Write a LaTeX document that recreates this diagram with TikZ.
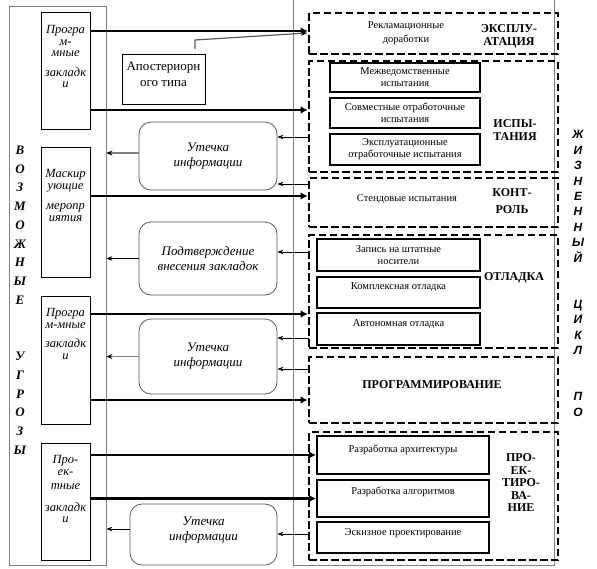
\documentclass[tikz,border=0pt]{standalone}
\usepackage{fontspec}
\setmainfont{Liberation Serif}
\newfontfamily\arialfont{Liberation Sans}
\usetikzlibrary{calc}
\usetikzlibrary{arrows.meta}
\usetikzlibrary{positioning}

\begin{document}
\begin{tikzpicture}[x=1pt,y=-1pt,
 greyframe/.style={draw=gray,line width=0.8pt},
 zbox/.style={draw,line width=0.8pt,minimum width=49pt,inner sep=0pt},
 ztext/.style={align=center,font=\fontsize{12.5}{11.5}\selectfont\itshape,inner sep=0pt},
 rbox/.style={draw=black!65,line width=0.8pt,rounded corners=12pt,align=center,font=\fontsize{13}{15}\selectfont\itshape,inner sep=0pt},
 dbox/.style={draw,line width=2.6pt,dash pattern=on 7.5pt off 3.5pt,minimum width=249pt,inner sep=0pt},
 ibox/.style={draw,line width=2.2pt,align=center,font=\fontsize{10.5}{12}\selectfont,inner sep=0pt},
 stage/.style={align=center,font=\fontsize{12}{13.5}\selectfont\bfseries,inner sep=0pt},
 note/.style={align=center,font=\fontsize{10.5}{14}\selectfont,inner sep=0pt},
 fat/.style={line width=2.9pt,-{Latex[length=7pt,width=7.5pt]}},
 thinarr/.style={line width=0.8pt,-{Stealth[length=6pt,width=4.5pt]}},
 greyout/.style={draw=gray,line width=1.6pt,-{Stealth[length=6pt,width=5pt,black]}}]
\useasboundingbox (0,0) rectangle (597,568);

\node[greyframe,minimum width=97pt,minimum height=559pt,inner sep=0pt] (lframe) at (57.5,285.5) {};
\draw[greyframe] (293,-2) -- (293,565) -- (554,565) -- (554,-2);

\node[font=\fontsize{13}{18.75}\selectfont\bfseries\itshape,align=center,inner sep=0pt] (ugrozy) at (20,300)
 {В\\О\\З\\М\\О\\Ж\\Н\\Ы\\Е\\[37.5pt]У\\Г\\Р\\О\\З\\Ы};
\node[font=\arialfont\fontsize{12}{15.4}\selectfont\bfseries\itshape,align=center,inner sep=0pt] (cikl) at (578,273.5)
 {Ж\\И\\З\\Н\\Е\\Н\\Н\\Ы\\Й\\[30.8pt]Ц\\И\\К\\Л\\[30.8pt]П\\О};

\node[zbox,minimum height=117pt] (z1) at (65.5,70.5) {};
\node[ztext,anchor=north] (z1t) at ([yshift=-14pt]z1.north) {Програ\\м-\\мные\\[8pt]закладк\\и};
\node[zbox,minimum height=130pt] (z2) at (65.5,212) {};
\node[ztext,anchor=north,font=\fontsize{12.5}{12}\selectfont\itshape] (z2t) at ([yshift=-23pt]z2.north) {Маскир\\ующие\\[8pt]меропр\\иятия};
\node[zbox,minimum height=128pt] (z3) at (65.5,360) {};
\node[ztext,anchor=north] (z3t) at ([yshift=-13pt]z3.north) {Програ\\м-мные\\[8pt]закладк\\и};
\node[zbox,minimum height=117pt] (z4) at (65.5,501.5) {};
\node[ztext,anchor=north] (z4t) at ([yshift=-13pt]z4.north) {Про-\\ек-\\[3pt]тные\\[10pt]закладк\\и};

\node[draw,line width=0.8pt,minimum width=83pt,minimum height=50pt,align=center,font=\fontsize{13}{16}\selectfont,inner sep=0pt,text depth=10pt] (apost) at (163.5,79) {Апостериорн\\ого типа};

\node[rbox,minimum width=138pt,minimum height=68pt] (r1) at (208,156) {Утечка\\информации};
\node[rbox,minimum width=138pt,minimum height=73pt] (r2) at (208,258.5) {Подтверждение\\внесения закладок};
\node[rbox,minimum width=138pt,minimum height=75pt] (r3) at (208,356.5) {Утечка\\информации};
\node[rbox,minimum width=147pt,minimum height=61pt,text depth=11pt] (r4) at (203.5,534.5) {Утечка\\информации};

\node[dbox,minimum height=41pt] (d1) at (433.5,33.5) {};
\node[dbox,minimum height=111pt] (d2) at (433.5,116.5) {};
\node[dbox,minimum height=49pt] (d3) at (433.5,202.5) {};
\node[dbox,minimum height=113pt] (d4) at (433.5,291.5) {};
\node[dbox,minimum height=66pt] (d5) at (433.5,390) {};
\node[dbox,minimum height=128pt] (d6) at (433.5,496) {};

\node[ibox,minimum width=150pt,minimum height=29pt] (i1) at (405,77.5) {Межведомственные\\испытания};
\node[ibox,minimum width=150pt,minimum height=30pt] (i2) at (405,113) {Совместные отработочные\\испытания};
\node[ibox,minimum width=150pt,minimum height=31pt] (i3) at (405,149.5) {Эксплуатационные\\отработочные испытания};
\node[ibox,minimum width=163pt,minimum height=32pt] (o1) at (398.5,255) {Запись на штатные\\носители};
\node[ibox,minimum width=163pt,minimum height=31pt,text depth=12pt] (o2) at (398.5,292.5) {Комплексная отладка};
\node[ibox,minimum width=163pt,minimum height=32pt,text depth=12pt] (o3) at (398.5,329) {Автономная отладка};
\node[ibox,minimum width=172pt,minimum height=38pt,text depth=13pt] (p1) at (403,455) {Разработка архитектуры};
\node[ibox,minimum width=172pt,minimum height=37pt,text depth=16pt] (p2) at (403,498.5) {Разработка алгоритмов};
\node[ibox,minimum width=172pt,minimum height=31pt,text depth=11pt] (p3) at (403,537.5) {Эскизное проектирование};

\node[note] (rekl) at (406,33) {Рекламационные\\доработки};
\node[stage] (expl) at (509,36.5) {ЭКСПЛУ-\\АТАЦИЯ};
\node[stage] (isp) at (515,130) {ИСПЫ-\\ТАНИЯ};
\node[note] (stend) at (407,199) {Стендовые испытания};
\node[stage] (kontr) at (512,201.5) {КОНТ-\\[3.5pt]РОЛЬ};
\node[stage] (otl) at (514,278) {ОТЛАДКА};
\node[stage] (prog) at (432,385) {ПРОГРАММИРОВАНИЕ};
\node[stage,font=\fontsize{12}{12.5}\selectfont\bfseries] (proekt) at (521,483) {ПРО-\\ЕК-\\ТИРО-\\ВА-\\НИЕ};

\coordinate (a1) at (90,31);
\coordinate (a2) at (90,110);
\coordinate (a3) at (90,196);
\coordinate (a4) at (90,314);
\coordinate (a5) at (90,400);
\draw[fat] (a1) -- (a1 -| d1.west);
\draw[fat] (a2) -- (a2 -| d2.west);
\draw[fat] (a3) -- (a3 -| d3.west);
\draw[fat] (a4) -- (a4 -| d4.west);
\draw[fat] (a5) -- (a5 -| d5.west);
\draw[fat] (z4.east |- p1.west) -- (p1.west);
\draw[fat] (z4.east |- p2.west) -- (p2.west);

\coordinate (b1) at (309,137);
\coordinate (b2) at (309,184);
\coordinate (b3) at (309,252);
\coordinate (b4) at (309,338);
\coordinate (b5) at (309,369);
\coordinate (b6) at (309,534);
\draw[thinarr] (b1) -- (b1 -| r1.east);
\draw[thinarr] (b2) -- (b2 -| r1.east);
\draw[thinarr] (b3) -- (b3 -| r2.east);
\draw[thinarr] (b4) -- (b4 -| r3.east);
\draw[thinarr] (b5) -- (b5 -| r3.east);
\draw[thinarr] (b6) -- (b6 -| r4.east);

\draw[greyout] ([yshift=3pt]r1.west) -- ([yshift=3pt]r1.west -| lframe.east);
\draw[thinarr] (r2.west) -- (r2.west -| lframe.east);
\draw[greyout] (r3.west) -- (r3.west -| lframe.east);
\draw[thinarr] ([yshift=5.5pt]r4.west) -- ([yshift=5.5pt]r4.west -| lframe.east);

\coordinate (g0) at (195,49);
\coordinate (g1) at (195,40);
\coordinate (g2) at (307,33);
\draw[draw=gray!70!black,line width=1.2pt,-{Stealth[length=6pt,width=5pt,black]}] (g0) -- (g1) -- (g2);
\end{tikzpicture}
\end{document}
